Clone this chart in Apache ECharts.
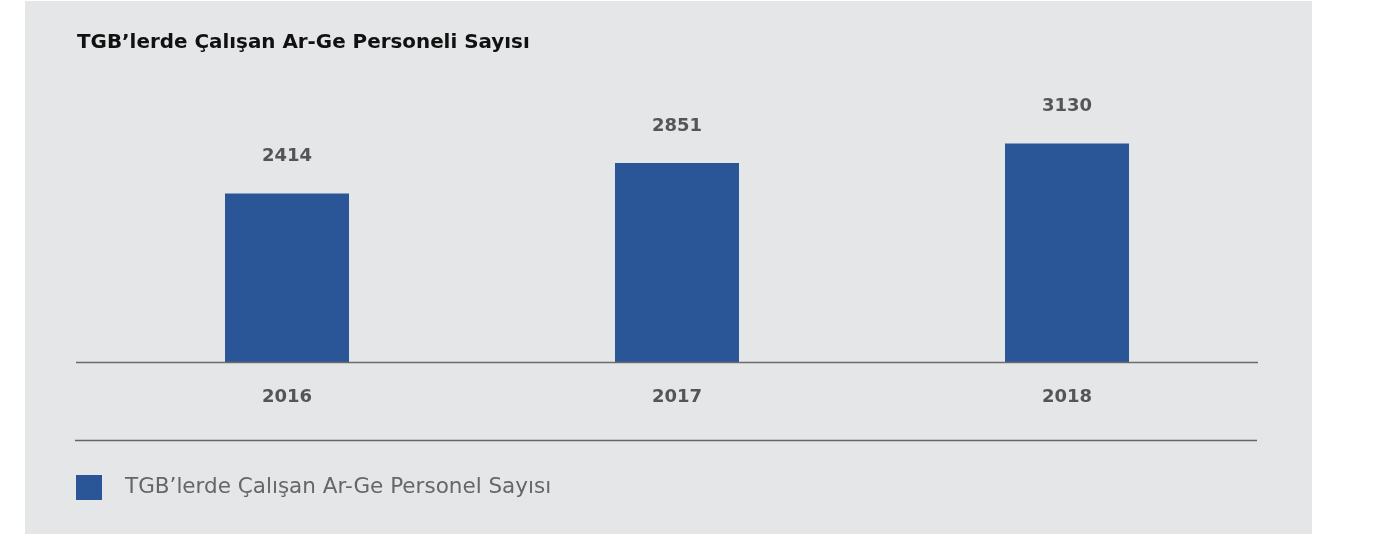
<!DOCTYPE html>
<html><head><meta charset="utf-8">
<script src="https://cdn.jsdelivr.net/npm/echarts@6/dist/echarts.min.js"></script>
<style>html,body{margin:0;padding:0;background:#fff}#c{width:1395px;height:536px}</style>
</head><body><div id="c"></div>
<script>
const title = "TGB’lerde Çalışan Ar-Ge Personeli Sayısı";
const seriesName = "TGB’lerde Çalışan Ar-Ge Personel Sayısı";
const categories = ["2016", "2017", "2018"];
const values = [2414, 2851, 3130];

const FONT = "'DejaVu Sans', sans-serif";
const chart = echarts.init(document.getElementById('c'), null, {renderer: 'canvas'});
chart.setOption({
  backgroundColor: '#ffffff',
  animation: false,
  title: {
    text: title, left: 77, top: 33, padding: 0,
    textStyle: {fontFamily: FONT, fontWeight: 'bold', fontSize: 19.9, color: '#111'}
  },
  legend: {
    left: 76, top: 475, padding: 0, itemWidth: 26, itemHeight: 25, itemGap: 10,
    icon: 'rect',
    textStyle: {fontFamily: FONT, fontSize: 21.5, color: '#666', padding: [0, 0, 0, 18]},
    data: [seriesName]
  },
  graphic: [
    {type: 'rect', z: -10, shape: {x: 25, y: 1, width: 1287, height: 533}, style: {fill: '#e5e6e8'}},
    {type: 'line', z: 5, shape: {x1: 75, y1: 440.5, x2: 1257, y2: 440.5}, style: {stroke: '#666', lineWidth: 1.3}},
    {type: 'line', z: 5, shape: {x1: 76, y1: 362.5, x2: 1258, y2: 362.5}, style: {stroke: '#6b6b6b', lineWidth: 1.3}}
  ],
  grid: {left: 92, right: 133, top: 80, bottom: 174, containLabel: false},
  xAxis: {
    type: 'category', data: categories,
    axisLine: {show: false}, axisTick: {show: false},
    axisLabel: {margin: 26, fontFamily: FONT, fontWeight: 'bold', fontSize: 18, color: '#555'}
  },
  yAxis: {type: 'value', min: 0, max: 4040, show: false, splitLine: {show: false}},
  series: [{
    name: seriesName, type: 'bar', data: values, barWidth: 124,
    itemStyle: {color: '#2a5597'},
    label: {show: true, position: 'top', distance: 28, fontFamily: FONT, fontWeight: 'bold', fontSize: 18, color: '#555'}
  }]
});
</script></body></html>
